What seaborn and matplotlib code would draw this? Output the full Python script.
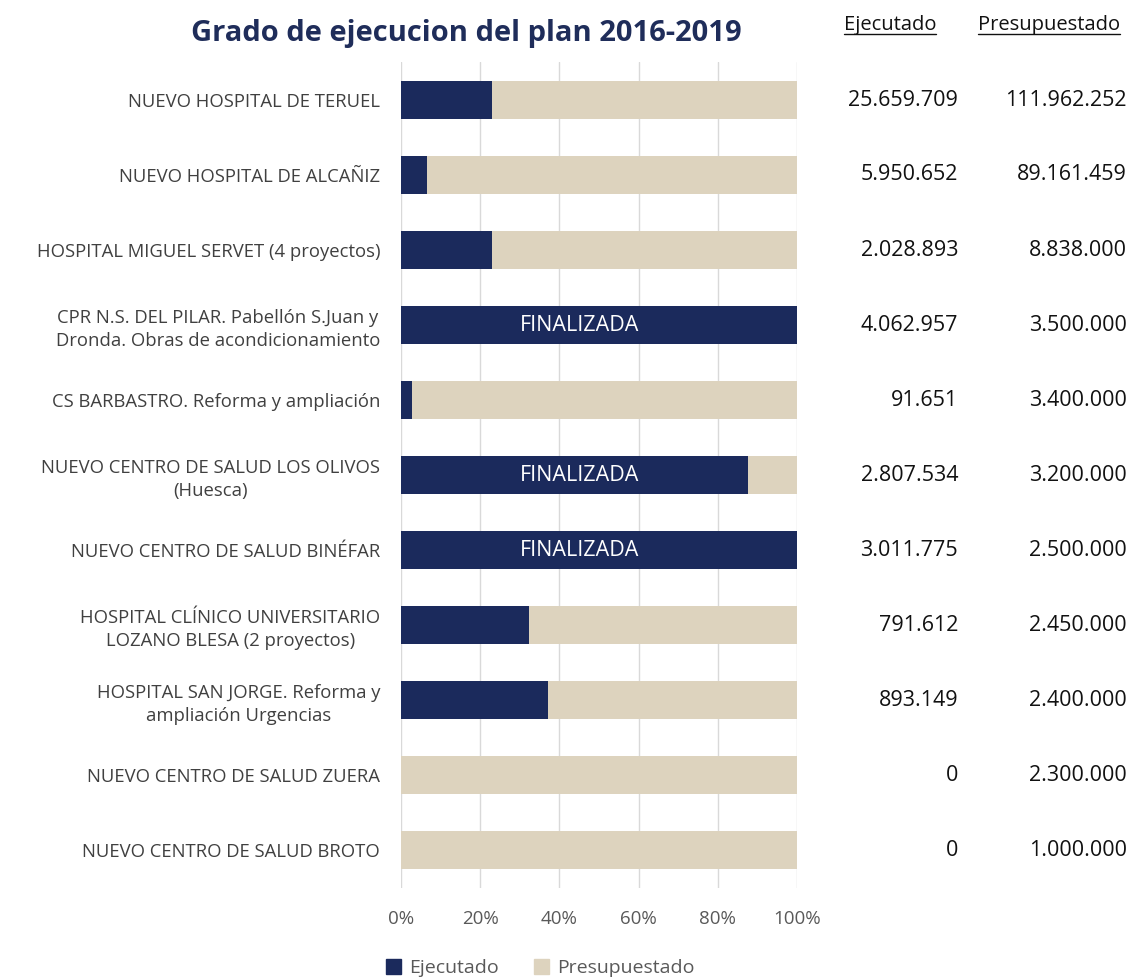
import pandas as pd
import matplotlib.pyplot as plt
import seaborn as sns
from matplotlib.patches import Patch
from matplotlib.lines import Line2D

# data
proyectos = [
    'NUEVO HOSPITAL DE TERUEL',
    'NUEVO HOSPITAL DE ALCAÑIZ',
    'HOSPITAL MIGUEL SERVET (4 proyectos)',
    'CPR N.S. DEL PILAR. Pabellón S.Juan y\nDronda. Obras de acondicionamiento',
    'CS BARBASTRO. Reforma y ampliación',
    'NUEVO CENTRO DE SALUD LOS OLIVOS\n(Huesca)',
    'NUEVO CENTRO DE SALUD BINÉFAR',
    'HOSPITAL CLÍNICO UNIVERSITARIO\nLOZANO BLESA (2 proyectos)',
    'HOSPITAL SAN JORGE. Reforma y\nampliación Urgencias',
    'NUEVO CENTRO DE SALUD ZUERA',
    'NUEVO CENTRO DE SALUD BROTO',
]
ejecutado = [25659709, 5950652, 2028893, 4062957, 91651, 2807534,
             3011775, 791612, 893149, 0, 0]
presupuestado = [111962252, 89161459, 8838000, 3500000, 3400000, 3200000,
                 2500000, 2450000, 2400000, 2300000, 1000000]
finalizada = ['CPR N.S. DEL PILAR. Pabellón S.Juan y\nDronda. Obras de acondicionamiento',
              'NUEVO CENTRO DE SALUD LOS OLIVOS\n(Huesca)',
              'NUEVO CENTRO DE SALUD BINÉFAR']

navy = '#1B2A5C'
beige = '#DDD3BE'

df = pd.DataFrame({'proyecto': proyectos, 'ejecutado': ejecutado,
                   'presupuestado': presupuestado})
df['pct_ejec'] = (df['ejecutado'] / df['presupuestado']).clip(upper=1) * 100
df['total'] = 100

def miles(v):
    return f'{v:,}'.replace(',', '.')

sns.set_style('white')
plt.rcParams['font.family'] = ['Open Sans', 'DejaVu Sans']

fig = plt.figure(figsize=(11.33, 9.8), dpi=100)
ax = fig.add_axes([401/1133, 1 - 887.5/980, 396/1133, 825/980])

sns.barplot(data=df, y='proyecto', x='total', color=beige, orient='h',
            width=0.5, ax=ax, saturation=1, linewidth=0)
sns.barplot(data=df, y='proyecto', x='pct_ejec', color=navy, orient='h',
            width=0.5, ax=ax, saturation=1, linewidth=0)

ax.set_xlim(0, 100)
ax.set_ylim(10.5, -0.5)
ax.set_xticks([0, 20, 40, 60, 80, 100])
ax.set_xticklabels([f'{t}%' for t in [0, 20, 40, 60, 80, 100]])
ax.grid(axis='x', color='#D9D9D9', linewidth=1)
ax.set_axisbelow(True)
for s in ax.spines.values():
    s.set_visible(False)
ax.set_xlabel('')
ax.set_ylabel('')
ax.tick_params(axis='x', colors='#595959', labelsize=13.5, pad=16, length=0)
ax.tick_params(axis='y', colors='#404040', labelsize=13.3, pad=15, length=0)
for lbl in ax.get_yticklabels():
    lbl.set_horizontalalignment('right')
    lbl.set_multialignment('center')
    lbl.set_linespacing(1.35)

tr = ax.get_yaxis_transform()
for i, row in df.iterrows():
    ax.text(1.4066, i, miles(row['ejecutado']), transform=tr, ha='right',
            va='center', fontsize=15.5, color='#111111')
    ax.text(1.833, i, miles(row['presupuestado']), transform=tr, ha='right',
            va='center', fontsize=15.5, color='#111111')
    if row['proyecto'] in finalizada:
        ax.text(45, i, 'FINALIZADA', ha='center', va='center',
                fontsize=15.5, color='white')

fig.text(466/1133, 1 - 33/980, 'Grado de ejecucion del plan 2016-2019',
         ha='center', va='center', fontsize=21, fontweight='bold', color='#1F2D5A')

h1 = fig.text(890/1133, 1 - 25/980, 'Ejecutado', ha='center', va='center',
              fontsize=14.5, color='#111111')
h2 = fig.text(1049/1133, 1 - 25/980, 'Presupuestado', ha='center', va='center',
              fontsize=14.5, color='#111111')
fig.canvas.draw()
rend = fig.canvas.get_renderer()
for h in (h1, h2):
    bb = h.get_window_extent(rend).transformed(fig.transFigure.inverted())
    fig.add_artist(Line2D([bb.x0, bb.x1], [bb.y0 + 0.001, bb.y0 + 0.001],
                          transform=fig.transFigure, color='#111111', linewidth=1))

handles = [Patch(color=navy, label='Ejecutado'),
           Patch(color=beige, label='Presupuestado')]
fig.legend(handles=handles, loc='center', bbox_to_anchor=(540/1133, 1 - 968/980),
           ncol=2, frameon=False, fontsize=14, handlelength=0.8, handleheight=0.8,
           handletextpad=0.4, columnspacing=1.8, labelcolor='#595959')

fig.savefig('out.png', dpi=100)
